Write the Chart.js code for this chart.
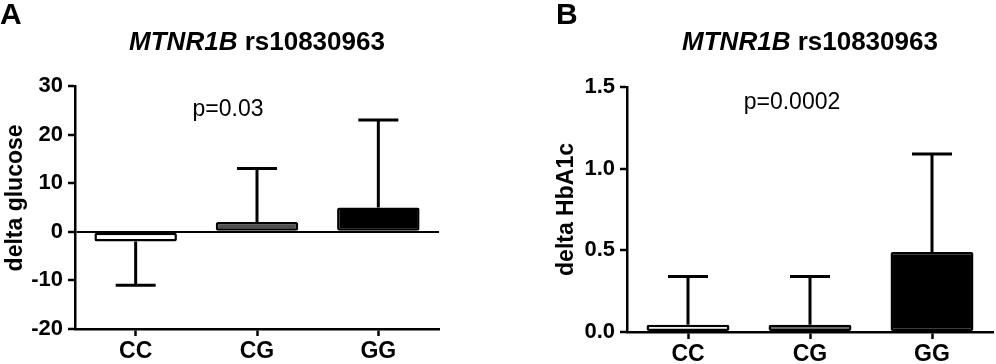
<!DOCTYPE html>
<html lang="en">
  <head>
    <script src="https://cdn.jsdelivr.net/npm/chart.js"></script>
    <style>
      body { margin: 0; background: #fff; }
      #page { position: relative; width: 996px; height: 364px; font-family: "Liberation Sans", Arial, sans-serif; color: #000; }
      #page canvas { position: absolute; top: 0; }
      .letter { position: absolute; top: -1px; font-size: 30px; font-weight: bold; line-height: 1; }
      .title { position: absolute; top: 28px; width: 400px; text-align: center; font-size: 26px; font-weight: bold; line-height: 1; }
      .pval { position: absolute; width: 200px; text-align: center; font-size: 23px; line-height: 1; }
    </style>
  </head>
  <body>
    <div id="page">
      <canvas id="chartA" width="498" height="364" style="left: 0"></canvas>
      <canvas id="chartB" width="498" height="364" style="left: 498px"></canvas>
      <div class="letter" style="left: 0">A</div>
      <div class="letter" style="left: 556px">B</div>
      <div class="title" style="left: 57px"><i>MTNR1B</i> rs10830963</div>
      <div class="title" style="left: 610px"><i>MTNR1B</i> rs10830963</div>
      <div class="pval" style="left: 128px; top: 97px">p=0.03</div>
      <div class="pval" style="left: 692px; top: 90px">p=0.0002</div>
    </div>
    <script type="text/javascript">
      const genotypes = ['CC', 'CG', 'GG'];
      const barColors = ['#ffffff', '#4f4f4f', '#000000'];

      // panel A: delta glucose, mean and SD
      const glucoseMean = [-2, 2, 5];
      const glucoseSD = [9, 11, 18];

      // panel B: delta HbA1c, mean and SD
      const hba1cMean = [0.045, 0.045, 0.49];
      const hba1cSD = [0.295, 0.295, 0.6];

      Chart.defaults.font.family = '"Liberation Sans", Arial, sans-serif';
      Chart.defaults.color = '#000';

      // one-sided SD whiskers, going away from zero
      const errorBars = {
        id: 'errorBars',
        afterDatasetsDraw(chart) {
          const ctx = chart.ctx;
          const y = chart.scales.y;
          const ds = chart.data.datasets[0];
          const meta = chart.getDatasetMeta(0);
          ctx.save();
          ctx.strokeStyle = '#000';
          ctx.lineWidth = 3;
          meta.data.forEach((bar, i) => {
            const v = ds.data[i];
            const end = v < 0 ? v - ds.sd[i] : v + ds.sd[i];
            const y0 = y.getPixelForValue(v);
            const y1 = y.getPixelForValue(end);
            ctx.beginPath();
            ctx.moveTo(bar.x, y0);
            ctx.lineTo(bar.x, y1);
            ctx.moveTo(bar.x - 20, y1);
            ctx.lineTo(bar.x + 20, y1);
            ctx.stroke();
          });
          ctx.restore();
        },
      };

      function makeChart(id, means, sds, yMin, yMax, step, digits, yLabel, pad, yWidth, xHeight) {
        return new Chart(document.getElementById(id), {
          type: 'bar',
          plugins: [errorBars],
          data: {
            labels: genotypes,
            datasets: [
              {
                data: means,
                sd: sds,
                backgroundColor: barColors,
                borderColor: '#000',
                borderWidth: 2.5,
                borderRadius: 2,
                borderSkipped: false,
                barPercentage: 0.68,
                categoryPercentage: 1,
              },
            ],
          },
          options: {
            responsive: false,
            animation: false,
            events: [],
            layout: { padding: pad },
            plugins: { legend: { display: false }, tooltip: { enabled: false } },
            scales: {
              x: {
                afterFit: (s) => { s.height = xHeight; },
                border: { display: true, color: '#000', width: 2.5 },
                grid: { offset: false, drawOnChartArea: false, tickLength: 7, tickColor: '#000', tickWidth: 2.5 },
                ticks: { font: { size: 23, weight: 'bold' }, padding: 2 },
              },
              y: {
                min: yMin,
                max: yMax,
                afterFit: (s) => { s.width = yWidth; },
                border: { display: true, color: '#000', width: 2.5 },
                grid: {
                  color: (c) => (c.tick && c.tick.value === 0 ? '#000' : 'rgba(0,0,0,0)'),
                  lineWidth: 2,
                  tickLength: 7,
                  tickColor: '#000',
                  tickWidth: 2.5,
                },
                ticks: {
                  stepSize: step,
                  padding: 5,
                  font: { size: 22, weight: 'bold' },
                  callback: (v) => Number(v).toFixed(digits),
                },
                title: {
                  display: true,
                  text: yLabel,
                  font: { size: 23, weight: 'bold' },
                  padding: { top: 2, bottom: 0 },
                },
              },
            },
          },
        });
      }

      // leading spaces nudge the rotated label up to where the original sits
      makeChart('chartA', glucoseMean, glucoseSD, -20, 30, 10, 0, '   delta glucose',
        { left: 0, top: 86, right: 59, bottom: 0 }, 75, 35);
      makeChart('chartB', hba1cMean, hba1cSD, 0, 1.5, 0.5, 1, 'delta HbA1c',
        { left: 53, top: 87, right: 3, bottom: 0 }, 76, 32);
    </script>
  </body>
</html>
